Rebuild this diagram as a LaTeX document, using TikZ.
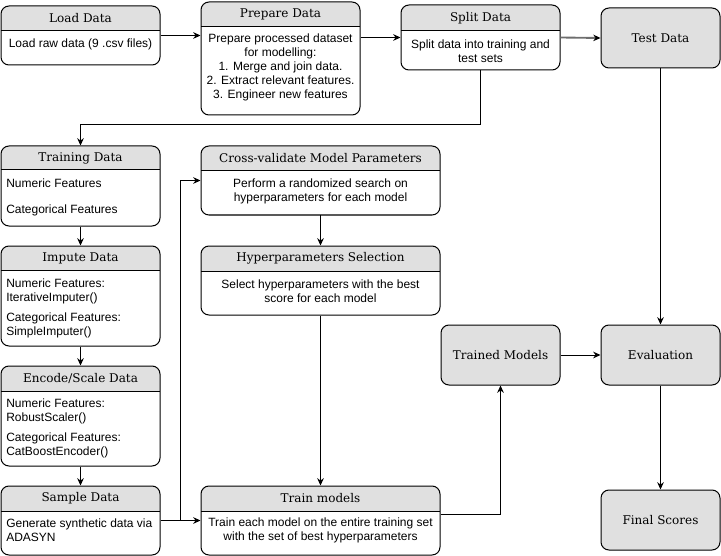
\documentclass[tikz,border=0pt]{standalone}
\usepackage{fontspec}
\setmainfont{Liberation Sans}
\newfontfamily\titlefont{DejaVu Serif}
\usetikzlibrary{arrows.meta,positioning,fit,calc}
\definecolor{headgray}{HTML}{E0E0E0}
\definecolor{linegray}{HTML}{6E6E6E}

\tikzset{
  panel/.style={draw, rounded corners=6pt, inner sep=0pt, line width=0.75pt},
  graybox/.style={draw, fill=headgray, rounded corners=6pt, line width=0.75pt,
    minimum width=89.25pt, minimum height=45pt, font=\titlefont\fontsize{9}{11}\selectfont},
  titletxt/.style={font=\titlefont\fontsize{9}{11}\selectfont},
  bodytxt/.style={font=\fontsize{9}{10.5}\selectfont, inner sep=0pt},
  arr/.style={line width=0.75pt, -{Stealth[length=5.5pt,width=5pt]}},
  grayarr/.style={linegray, line width=1.4pt, -{Stealth[length=5.5pt,width=5pt,line width=0pt,color=black,fill=black]}}
}

% box with a grey title band: name, x1, y1, x2, y2, band bottom, title
\newcommand{\flowbox}[7]{%
  \begin{scope}
    \clip[rounded corners=6pt] (#2,#3) rectangle (#4,#5);
    \fill[headgray] (#2,#3) rectangle (#4,#6);
  \end{scope}
  \node[panel, fit={(#2,#3) (#4,#5)}] (#1) {};
  \draw[line width=0.75pt] (#2,#6) -- (#4,#6);
  \node[titletxt] (#1-t) at ({(#2+#4)/2},{(#3+#6)/2}) {#7};
}

\begin{document}
\begin{tikzpicture}[x=0.75pt, y=-0.75pt]
  \useasboundingbox (0,0) rectangle (721,556);

  % top row
  \flowbox{load}{1}{6}{160}{65}{31}{Load Data}
  \node[bodytxt] (load-b) at (80.5,44) {Load raw data (9 .csv files)};

  \flowbox{prep}{201}{2}{360}{115}{27}{Prepare Data}
  \node[bodytxt, align=center] (prep-b) at (280.5,67) {Prepare processed dataset\\for modelling:\\1. Merge and join data.\\2. Extract relevant features.\\3. Engineer new features};

  \flowbox{split}{401}{5}{560}{70}{31}{Split Data}
  \node[bodytxt, align=center] (split-b) at (480.5,51) {Split data into training and\\test sets};

  \node[graybox] (test) at (660.5,38) {Test Data};

  % left column
  \flowbox{train}{1}{146}{160}{226}{170}{Training Data}
  \node[bodytxt, align=left, anchor=west] (train-b) at (6,197) {Numeric Features\\[9pt]Categorical Features};

  \flowbox{impute}{1}{246}{160}{346}{270}{Impute Data}
  \node[bodytxt, align=left, anchor=west] (impute-b) at (6,308) {Numeric Features:\\IterativeImputer()\\[4.5pt]Categorical Features:\\SimpleImputer()};

  \flowbox{encode}{1}{366}{160}{466}{391}{Encode/Scale Data}
  \node[bodytxt, align=left, anchor=west] (encode-b) at (6,428) {Numeric Features:\\RobustScaler()\\[4.5pt]Categorical Features:\\CatBoostEncoder()};

  \flowbox{sample}{1}{486}{160}{555}{511}{Sample Data}
  \node[bodytxt, align=left, anchor=west] (sample-b) at (6,530.5) {Generate synthetic data via\\ADASYN};

  % middle column
  \flowbox{cv}{201}{146}{440}{215}{171}{Cross-validate Model Parameters}
  \node[bodytxt, align=center] (cv-b) at (320.5,191) {Perform a randomized search on\\hyperparameters for each model};

  \flowbox{hyper}{201}{246}{440}{315}{271}{Hyperparameters Selection}
  \node[bodytxt, align=center] (hyper-b) at (320.5,291) {Select hyperparameters with the best\\score for each model};

  \flowbox{trainm}{201}{486}{440}{555}{511}{Train models}
  \node[bodytxt, align=center] (trainm-b) at (320.5,530.5) {Train each model on the entire training set\\with the set of best hyperparameters};

  % grey result boxes
  \node[graybox] (trained) at (500.5,355) {Trained Models};
  \node[graybox] (eval) at (660.5,355) {Evaluation};
  \node[graybox] (scores) at (660.5,520) {Final Scores};

  % connectors
  \draw[arr] (load.east) -- (load.east -| prep.west);
  \draw[arr] (prep.east |- split.west) -- (split.west);
  \draw[grayarr] (split.east) -- (test.west);
  \draw[arr] (split.south) |- ([yshift=15.75pt]train.north) -- (train.north);
  \draw[arr] (train) -- (impute);
  \draw[arr] (impute) -- (encode);
  \draw[arr] (encode) -- (sample);
  \draw[arr] (sample.east) -- (trainm.west);
  \draw[arr] (sample.east) -- ([xshift=15pt]sample.east) |- (cv.west);
  \draw[arr] (cv) -- (hyper);
  \draw[arr] (hyper) -- (trainm);
  \draw[arr] ([yshift=4.5pt]trainm.east) -| (trained.south);
  \draw[arr] (trained) -- (eval);
  \draw[arr] (test) -- (eval);
  \draw[arr] (eval) -- (scores);
\end{tikzpicture}
\end{document}
